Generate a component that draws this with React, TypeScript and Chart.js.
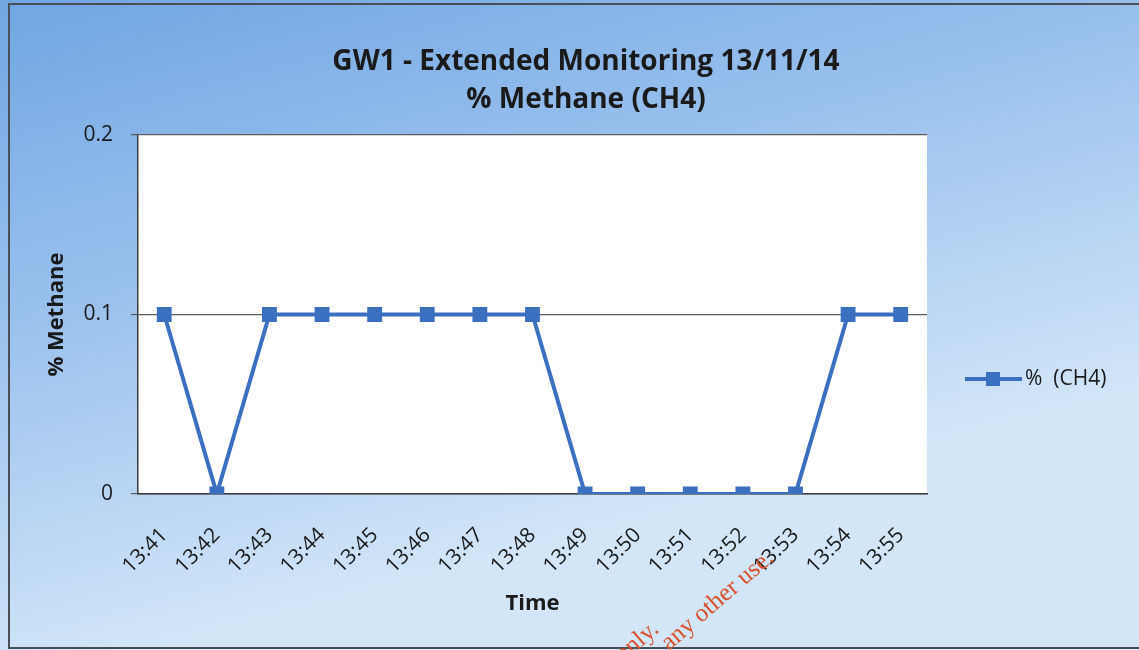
import React, { useEffect, useRef } from "react";
import { Chart, registerables } from "chart.js";

Chart.register(...registerables);

const timeLabels = ["13:41", "13:42", "13:43", "13:44", "13:45", "13:46", "13:47", "13:48", "13:49", "13:50", "13:51", "13:52", "13:53", "13:54", "13:55"];
const methanePct = [0.1, 0, 0.1, 0.1, 0.1, 0.1, 0.1, 0.1, 0, 0, 0, 0, 0, 0.1, 0.1];
const titleLines = ["GW1 - Extended Monitoring 13/11/14", "% Methane (CH4)"];
const seriesName = "%  (CH4)";
const xTitle = "Time";
const yTitle = "% Methane";
const stampLines = ["only.", "any other use."];
const yMin = 0;
const yMax = 0.2;
const yStep = 0.1;

const LINE_COLOR = "#3b6fbf";
const TEXT = "#1a1a1a";
const FONT = "'Open Sans', 'Noto Sans', sans-serif";

const decorPlugin = {
  id: "decorPlugin",
  beforeDraw(chart: any) {
    const { ctx, width, height, chartArea } = chart;
    ctx.save();
    const g = ctx.createLinearGradient(0, 0, width * 0.15, height);
    g.addColorStop(0, "#70a6e3");
    g.addColorStop(0.5, "#9dc3ee");
    g.addColorStop(1, "#d3e6f8");
    ctx.fillStyle = g;
    ctx.fillRect(0, 0, width, height);
    ctx.strokeStyle = "#4a4f57";
    ctx.lineWidth = 2;
    ctx.strokeRect(9, 4, width + 10, height - 6);
    ctx.fillStyle = "#ffffff";
    ctx.fillRect(chartArea.left, chartArea.top, chartArea.right - chartArea.left, chartArea.bottom - chartArea.top);
    // title
    ctx.fillStyle = TEXT;
    ctx.font = `bold 28px ${FONT}`;
    ctx.textAlign = "center";
    ctx.textBaseline = "middle";
    ctx.fillText(titleLines[0], 586, 62);
    ctx.fillText(titleLines[1], 586, 100);
    ctx.restore();
  },
  afterDraw(chart: any) {
    const { ctx, chartArea } = chart;
    ctx.save();
    // legend
    const ly = 379;
    const lx = chartArea.right + 38;
    ctx.strokeStyle = LINE_COLOR;
    ctx.lineWidth = 4;
    ctx.beginPath();
    ctx.moveTo(lx, ly);
    ctx.lineTo(lx + 57, ly);
    ctx.stroke();
    ctx.fillStyle = LINE_COLOR;
    ctx.fillRect(lx + 21, ly - 7, 14, 14);
    ctx.fillStyle = TEXT;
    ctx.font = `21px ${FONT}`;
    ctx.textBaseline = "middle";
    ctx.textAlign = "left";
    ctx.fillText(seriesName, lx + 60, ly);
    // scanned stamp fragments
    ctx.fillStyle = "#d9502a";
    ctx.font = "25px 'Liberation Serif', 'DejaVu Serif', serif";
    ctx.textBaseline = "alphabetic";
    ctx.save();
    ctx.translate(660, 631);
    ctx.rotate(-0.71);
    ctx.textAlign = "right";
    ctx.fillText(stampLines[0], 0, 0);
    ctx.restore();
    ctx.translate(669, 651);
    ctx.rotate(-0.71);
    ctx.textAlign = "left";
    ctx.fillText(stampLines[1], 0, 0);
    ctx.restore();
  },
};

export default function App() {
  const ref = useRef<HTMLCanvasElement | null>(null);
  useEffect(() => {
    if (!ref.current) return;
    const chart = new Chart(ref.current, {
      type: "line",
      data: {
        labels: timeLabels,
        datasets: [
          {
            label: seriesName,
            data: methanePct,
            borderColor: LINE_COLOR,
            backgroundColor: LINE_COLOR,
            borderWidth: 4,
            pointStyle: "rect",
            pointRadius: 10.5,
            pointBorderWidth: 0,
            pointBackgroundColor: LINE_COLOR,
            tension: 0,
          },
        ],
      },
      options: {
        animation: false,
        responsive: false,
        maintainAspectRatio: false,
        layout: { padding: { left: 44, right: 212, top: 135, bottom: 33 } },
        plugins: {
          legend: { display: false },
          tooltip: { enabled: false },
          title: { display: false },
        },
        scales: {
          x: {
            offset: true,
            grid: { display: false, drawTicks: false },
            border: { display: true, color: "#3d3d3d", width: 1.5 },
            ticks: {
              color: TEXT,
              font: { family: FONT, size: 21 },
              minRotation: 45,
              maxRotation: 45,
              padding: 29,
              autoSkip: false,
            },
            title: {
              display: true,
              text: xTitle,
              color: TEXT,
              font: { family: FONT, size: 22, weight: "bold" },
              padding: { top: -17, bottom: 0 },
            },
          },
          y: {
            min: yMin,
            max: yMax,
            ticks: {
              stepSize: yStep,
              color: TEXT,
              font: { family: FONT, size: 21 },
              padding: 18,
            },
            grid: { color: "#5c5c5c", lineWidth: 1.2, drawTicks: true, tickLength: 7 },
            border: { display: true, color: "#3d3d3d", width: 1.5 },
            title: {
              display: true,
              text: yTitle,
              color: TEXT,
              font: { family: FONT, size: 22, weight: "bold" },
              padding: { top: 0, bottom: -5 },
            },
          },
        },
      },
      plugins: [decorPlugin],
    });
    return () => chart.destroy();
  }, []);
  return (
    <div style={{ position: "absolute", left: 0, top: 0, width: 1139, height: 650 }}>
      <canvas ref={ref} width={1139} height={650} style={{ display: "block" }} />
    </div>
  );
}
